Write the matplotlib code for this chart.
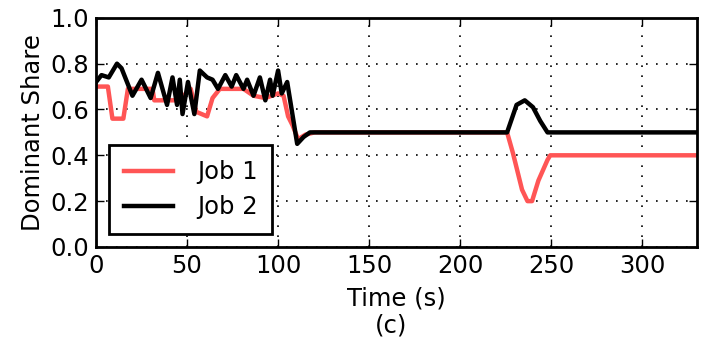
import matplotlib
matplotlib.use("Agg")
import matplotlib.pyplot as plt

# Job 1 (red)
t1 = [0, 6.5, 9, 15, 17.5, 31, 32, 45, 48, 52, 55, 61, 64, 68, 81, 86.5, 93, 100, 103,
      105.5, 108, 111, 115, 120, 225.8, 229, 234, 237, 239.5, 243, 248, 249.5, 330]
v1 = [0.70, 0.70, 0.56, 0.56, 0.69, 0.69, 0.64, 0.64, 0.66, 0.69, 0.59, 0.57, 0.65, 0.69,
      0.69, 0.66, 0.65, 0.67, 0.66, 0.57, 0.53, 0.47, 0.49, 0.50, 0.50, 0.41, 0.25, 0.20,
      0.20, 0.29, 0.38, 0.40, 0.40]

# Job 2 (black)
t2 = [0, 3, 7, 11.5, 14, 20, 25, 30, 34, 39, 42, 44.5, 46, 47.5, 50.5, 54, 57, 61, 64, 67,
      71, 74.5, 77, 81, 83, 86.5, 90, 93, 95.6, 97, 100, 102, 105, 110.5, 114, 117.5,
      225.8, 231, 235.5, 240, 244, 248, 330]
v2 = [0.72, 0.75, 0.74, 0.80, 0.78, 0.66, 0.73, 0.65, 0.76, 0.62, 0.74, 0.62, 0.73, 0.58,
      0.72, 0.58, 0.77, 0.74, 0.73, 0.69, 0.75, 0.70, 0.75, 0.69, 0.73, 0.66, 0.74, 0.64,
      0.73, 0.66, 0.77, 0.67, 0.72, 0.45, 0.48, 0.50, 0.50, 0.62, 0.64, 0.61, 0.55, 0.50,
      0.50]

xticks = [0, 50, 100, 150, 200, 250, 300]
yticks = [0.0, 0.2, 0.4, 0.6, 0.8, 1.0]

fs = 17.5

fig = plt.figure(figsize=(7.01, 3.43), dpi=100)
ax = fig.add_axes([0.137, 0.280, 0.857, 0.668])

ax.plot(t1, v1, color="#ff5555", lw=3.2, label="Job 1")
ax.plot(t2, v2, color="black", lw=3.2, label="Job 2")

ax.set_xlim(0, 330)
ax.set_ylim(0, 1.0)
ax.set_xticks(xticks)
ax.set_yticks(yticks)
ax.set_yticklabels([f"{y:.1f}" for y in yticks])
ax.tick_params(direction="in", length=6, width=1, labelsize=fs, top=True, right=True, pad=5)
ax.grid(True, color="black", linestyle=(0, (1, 5)), linewidth=1.2)
for s in ax.spines.values():
    s.set_linewidth(2)

ax.set_xlabel("Time (s)", fontsize=fs, labelpad=6)
ax.set_ylabel("Dominant Share", fontsize=fs, labelpad=4)
fig.text(0.558, 0.05, "(c)", fontsize=fs, ha="center", va="center")

leg = ax.legend(loc="lower left", fontsize=fs, fancybox=False, framealpha=1,
                edgecolor="black", handlelength=2.0, handletextpad=1.0,
                borderaxespad=0.55, borderpad=0.6, labelspacing=0.45)
leg.get_frame().set_linewidth(2)

fig.savefig("out.png", dpi=100)
